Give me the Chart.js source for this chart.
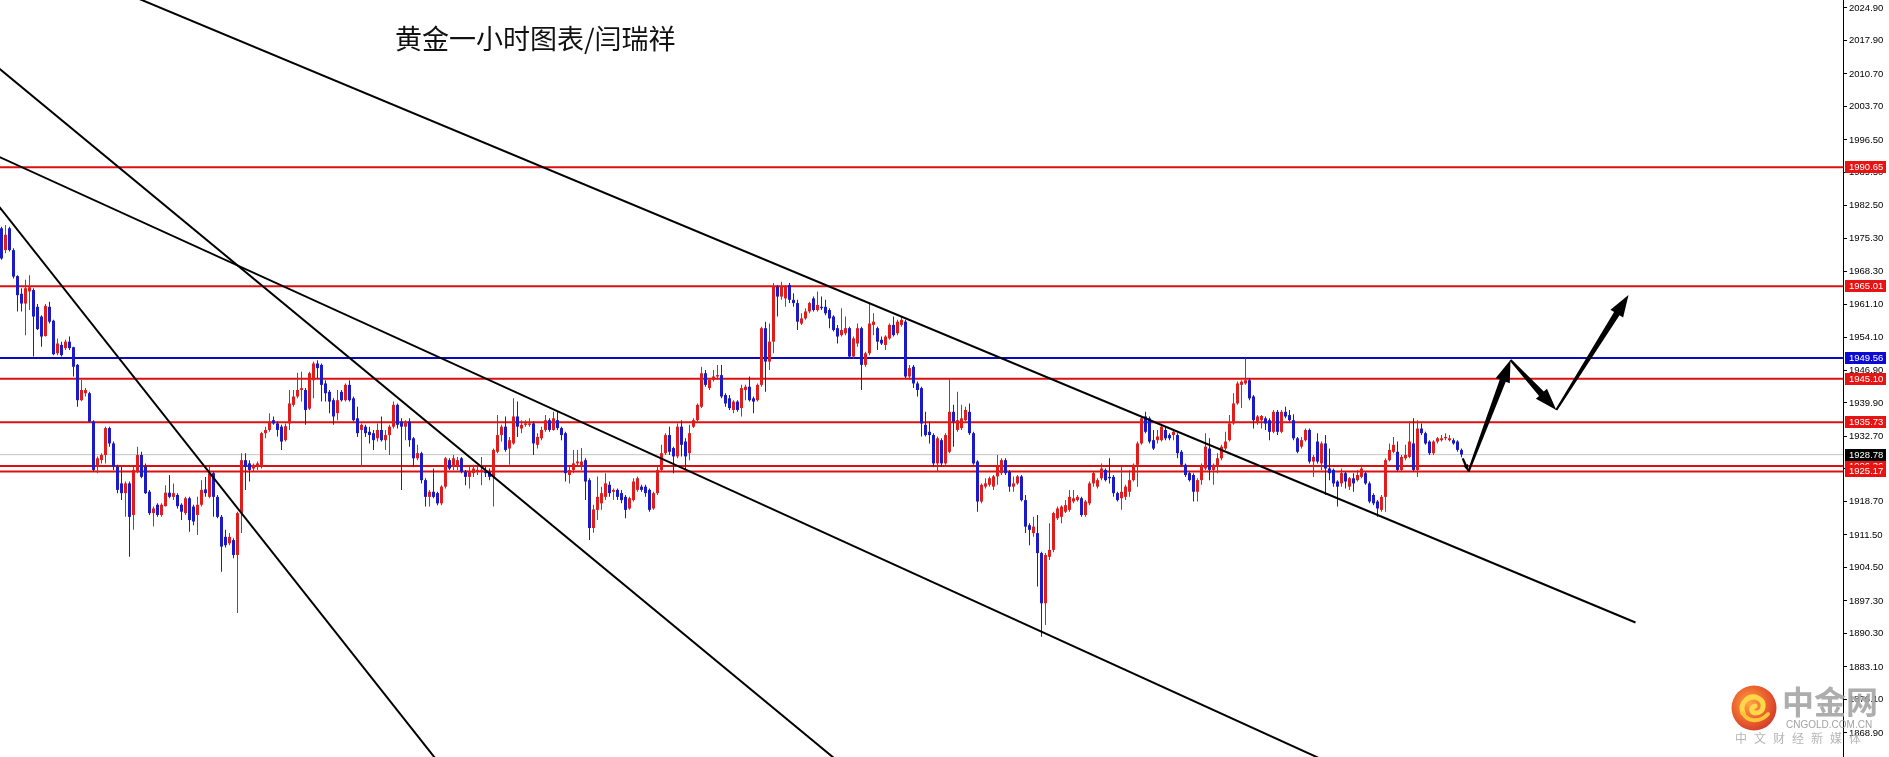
<!DOCTYPE html>
<html>
<head>
<meta charset="utf-8">
<script src="https://cdn.jsdelivr.net/npm/chart.js@4.4.1/dist/chart.umd.min.js"></script>
<style>
    html, body { margin: 0; padding: 0; background: #fff; }
    #wrap { position: relative; width: 1889px; height: 757px; overflow: hidden; }
    #goldChart { position: absolute; left: 0; top: 0; }
    #chart-title { position: absolute; left: 395px; top: 24px; font: 27px/27px "Noto Sans CJK SC", sans-serif; color: #111; white-space: nowrap; }
    .wm { position: absolute; white-space: nowrap; opacity: 0.92; }
    #wm-logo { left: 1731px; top: 685px; }
    #wm-name { left: 1782px; top: 683px; font: bold 32px/34px "Noto Sans CJK SC", sans-serif; color: #a6a6a6; }
    #wm-site { left: 1786px; top: 719px; font: 10px/12px "Liberation Sans", Arial, sans-serif; color: #9a9a9a; }
    #wm-sub { left: 1735px; top: 731px; font: 12px/14px "Noto Sans CJK SC", sans-serif; color: #b0b0b0; letter-spacing: 7px; }
</style>
</head>
<body>
<div id="wrap">
    <canvas id="goldChart" width="1889" height="757"></canvas>
    <div id="chart-title">黄金一小时图表/闫瑞祥</div>
    <svg class="wm" id="wm-logo" width="46" height="46" viewBox="0 0 46 46">
        <defs>
            <radialGradient id="logoGrad" cx="40%" cy="40%" r="65%">
                <stop offset="0%" stop-color="#ff9d30"/>
                <stop offset="55%" stop-color="#ec5a1e"/>
                <stop offset="100%" stop-color="#cf2a1a"/>
            </radialGradient>
        </defs>
        <circle cx="23" cy="23" r="22.5" fill="url(#logoGrad)"/>
        <path d="M12 28 C8 18, 18 9, 27 13 C35 17, 33 28, 25 28 C20 28, 19 22, 24 21" stroke="#ffd43b" stroke-width="5" fill="none" stroke-linecap="round"/>
        <path d="M12 28 C16 37, 29 38, 37 29" stroke="#ffc22a" stroke-width="4" fill="none" stroke-linecap="round"/>
    </svg>
    <div class="wm" id="wm-name">中金网</div>
    <div class="wm" id="wm-site">CNGOLD.COM.CN</div>
    <div class="wm" id="wm-sub">中文财经新媒体</div>
</div>
<script>
// hourly candles, oldest first
const Candle_Open = [
    1977.5, 1972.8, 1977.5, 1972.8, 1967.2, 1963.4, 1961.3, 1963.9, 1964.2, 1960.6,
    1958.5, 1954.3, 1960.6, 1957.6, 1950.6, 1952.4, 1951.7, 1953.1, 1951.9, 1948.1,
    1940.5, 1942.0, 1942.0, 1935.9, 1926.2, 1927.6, 1928.7, 1934.5, 1931.2, 1926.2,
    1922.6, 1920.5, 1922.6, 1915.8, 1925.1, 1928.7, 1926.2, 1920.8, 1916.2, 1918.0,
    1915.8, 1917.7, 1920.6, 1919.7, 1920.1, 1918.0, 1916.2, 1919.4, 1917.6, 1915.8,
    1918.0, 1921.3, 1919.7, 1924.8, 1919.7, 1915.4, 1911.1, 1909.7, 1910.4, 1907.2,
    1916.2, 1927.6, 1926.9, 1925.8, 1926.2, 1926.2, 1933.4, 1934.1, 1936.2, 1935.5,
    1934.8, 1931.9, 1935.5, 1939.5, 1941.3, 1942.7, 1942.7, 1938.7, 1944.8, 1948.4,
    1948.1, 1944.1, 1942.3, 1940.5, 1937.7, 1942.3, 1940.5, 1943.8, 1940.9, 1936.6,
    1934.1, 1934.8, 1933.7, 1933.4, 1932.3, 1934.1, 1931.9, 1933.0, 1934.8, 1939.5,
    1935.9, 1934.8, 1935.9, 1932.3, 1928.0, 1929.1, 1923.3, 1919.7, 1920.8, 1920.5,
    1918.3, 1921.9, 1927.6, 1926.2, 1926.2, 1928.0, 1925.1, 1924.0, 1924.8, 1925.1,
    1925.1, 1925.1, 1925.1, 1924.0, 1929.4, 1933.0, 1934.8, 1930.1, 1931.2, 1937.0,
    1934.4, 1935.2, 1935.2, 1935.5, 1930.9, 1932.3, 1934.1, 1936.2, 1934.1, 1936.2,
    1934.5, 1933.4, 1924.4, 1925.5, 1926.9, 1926.2, 1927.6, 1923.3, 1913.0, 1916.9,
    1918.3, 1919.7, 1922.3, 1920.8, 1921.2, 1920.5, 1919.7, 1917.2, 1919.0, 1921.2,
    1921.9, 1921.9, 1921.2, 1917.2, 1920.5, 1925.5, 1929.1, 1933.0, 1930.2, 1928.4,
    1934.8, 1931.6, 1929.1, 1934.8, 1936.2, 1939.1, 1946.3, 1943.1, 1944.9, 1945.6,
    1945.9, 1941.6, 1940.9, 1938.4, 1940.2, 1938.8, 1942.7, 1943.4, 1940.9, 1940.5,
    1943.8, 1956.0, 1948.8, 1953.1, 1964.9, 1962.8, 1962.4, 1965.3, 1962.1, 1961.4,
    1957.0, 1958.1, 1959.6, 1962.4, 1959.9, 1960.6, 1960.6, 1959.9, 1958.5, 1956.0,
    1954.5, 1954.9, 1956.0, 1949.9, 1952.7, 1956.0, 1948.1, 1950.6, 1956.7, 1956.0,
    1953.5, 1952.4, 1953.8, 1956.7, 1954.9, 1956.7, 1957.4, 1945.6, 1947.7, 1944.1,
    1943.1, 1935.2, 1933.7, 1933.0, 1926.9, 1931.9, 1926.9, 1929.4, 1938.0, 1934.1,
    1934.5, 1936.2, 1938.0, 1933.4, 1927.3, 1918.7, 1921.9, 1922.3, 1921.9, 1924.1,
    1924.8, 1927.6, 1925.1, 1921.9, 1922.6, 1924.1, 1919.0, 1913.6, 1911.9, 1911.9,
    1907.6, 1896.8, 1906.8, 1908.3, 1915.1, 1915.4, 1916.5, 1916.9, 1918.7, 1919.0,
    1919.4, 1915.8, 1918.3, 1922.6, 1921.9, 1923.7, 1925.5, 1924.0, 1924.0, 1920.5,
    1919.4, 1919.7, 1920.8, 1923.3, 1926.6, 1931.2, 1937.0, 1936.6, 1931.9, 1931.9,
    1931.9, 1934.1, 1933.0, 1933.0, 1933.0, 1929.4, 1926.6, 1924.8, 1924.4, 1920.8,
    1923.3, 1925.8, 1930.1, 1925.5, 1926.2, 1928.0, 1930.1, 1931.9, 1935.5, 1939.8,
    1943.8, 1944.1, 1944.8, 1941.3, 1935.9, 1936.2, 1936.6, 1936.2, 1933.7, 1938.0,
    1933.7, 1938.0, 1937.3, 1936.2, 1932.3, 1930.5, 1931.9, 1934.1, 1927.3, 1931.6,
    1926.9, 1931.2, 1925.8, 1925.5, 1923.0, 1922.6, 1924.8, 1921.9, 1923.7, 1923.3,
    1924.0, 1924.8, 1922.6, 1920.1, 1918.7, 1916.9, 1919.7, 1927.6, 1929.4, 1929.4,
    1925.5, 1928.0, 1928.3, 1931.2, 1925.5, 1934.4, 1933.4, 1931.6, 1929.1, 1931.6,
    1931.9, 1932.3, 1931.9, 1931.9, 1931.6, 1929.8
];
const Candle_High = [
    1977.8, 1978.2, 1977.8, 1973.2, 1967.4, 1964.6, 1966.4, 1967.4, 1964.6, 1961.2,
    1958.8, 1961.2, 1961.7, 1957.8, 1953.8, 1953.1, 1953.5, 1954.2, 1952.0, 1948.3,
    1944.9, 1943.1, 1942.3, 1936.2, 1928.4, 1929.1, 1934.8, 1934.8, 1931.6, 1926.6,
    1926.2, 1923.0, 1923.0, 1926.2, 1930.5, 1929.4, 1926.9, 1921.2, 1917.6, 1918.3,
    1918.3, 1922.2, 1924.4, 1922.6, 1920.5, 1918.3, 1919.7, 1919.7, 1918.0, 1919.7,
    1923.3, 1924.0, 1926.2, 1925.1, 1920.1, 1915.8, 1912.6, 1911.9, 1910.8, 1916.5,
    1929.1, 1929.1, 1927.6, 1926.9, 1927.3, 1933.7, 1934.8, 1937.7, 1937.0, 1935.9,
    1935.2, 1935.5, 1942.7, 1942.7, 1946.4, 1946.6, 1943.1, 1946.6, 1948.8, 1949.1,
    1948.4, 1944.8, 1942.7, 1940.9, 1942.7, 1942.7, 1944.1, 1944.8, 1941.3, 1939.1,
    1935.5, 1935.2, 1934.8, 1934.1, 1935.5, 1937.0, 1934.1, 1935.2, 1940.2, 1939.8,
    1936.6, 1936.2, 1936.6, 1932.6, 1930.9, 1929.4, 1923.7, 1921.2, 1925.8, 1920.8,
    1922.2, 1928.3, 1928.0, 1928.7, 1928.3, 1928.3, 1925.5, 1926.2, 1926.6, 1926.2,
    1928.3, 1926.2, 1925.8, 1930.1, 1937.3, 1935.2, 1937.0, 1932.6, 1940.9, 1940.2,
    1936.2, 1936.2, 1936.6, 1935.9, 1933.4, 1934.8, 1937.3, 1936.6, 1938.0, 1938.0,
    1934.8, 1933.7, 1926.2, 1929.8, 1929.8, 1930.2, 1928.0, 1923.7, 1918.0, 1924.1,
    1921.9, 1924.8, 1923.0, 1921.5, 1921.5, 1921.2, 1920.1, 1919.7, 1923.7, 1924.1,
    1922.3, 1922.3, 1921.5, 1920.8, 1926.2, 1930.9, 1933.4, 1934.8, 1930.5, 1935.5,
    1936.2, 1932.3, 1935.2, 1936.6, 1939.8, 1947.7, 1947.0, 1945.2, 1947.0, 1948.1,
    1948.1, 1942.0, 1941.6, 1940.5, 1940.5, 1943.8, 1943.8, 1945.6, 1941.3, 1944.1,
    1956.3, 1957.4, 1957.0, 1965.7, 1965.3, 1966.0, 1965.3, 1965.7, 1963.5, 1962.1,
    1959.2, 1960.3, 1961.7, 1962.8, 1963.9, 1962.8, 1962.1, 1960.3, 1958.8, 1956.7,
    1960.3, 1958.5, 1956.3, 1954.2, 1957.0, 1956.3, 1950.9, 1961.4, 1959.2, 1956.3,
    1954.2, 1954.5, 1957.0, 1958.5, 1957.8, 1958.5, 1957.8, 1948.1, 1948.1, 1944.5,
    1943.4, 1938.0, 1935.9, 1933.4, 1932.7, 1932.3, 1933.4, 1945.2, 1939.5, 1942.3,
    1939.5, 1939.1, 1939.8, 1933.7, 1927.6, 1922.6, 1923.7, 1924.1, 1924.4, 1928.7,
    1928.0, 1928.0, 1925.5, 1924.1, 1924.4, 1924.4, 1920.1, 1914.0, 1915.4, 1915.8,
    1907.9, 1907.6, 1914.0, 1916.5, 1917.6, 1917.9, 1919.0, 1921.2, 1921.2, 1920.1,
    1919.7, 1919.0, 1923.0, 1925.1, 1923.7, 1926.9, 1925.8, 1928.0, 1924.4, 1920.8,
    1926.2, 1922.3, 1925.5, 1926.9, 1931.6, 1937.0, 1938.0, 1937.0, 1934.1, 1934.1,
    1935.2, 1934.8, 1933.4, 1934.1, 1933.4, 1929.8, 1926.9, 1925.1, 1924.8, 1923.7,
    1926.9, 1933.4, 1932.3, 1926.9, 1929.1, 1930.9, 1933.7, 1937.3, 1942.0, 1944.5,
    1944.8, 1949.5, 1945.2, 1941.6, 1937.3, 1937.3, 1937.0, 1936.6, 1938.4, 1938.4,
    1938.4, 1939.1, 1938.4, 1937.5, 1932.6, 1932.6, 1934.4, 1934.4, 1928.7, 1933.4,
    1931.6, 1933.0, 1930.1, 1925.8, 1923.3, 1925.8, 1925.1, 1924.0, 1924.8, 1925.5,
    1926.6, 1925.1, 1923.0, 1920.5, 1919.0, 1920.1, 1928.0, 1931.2, 1932.6, 1931.6,
    1928.7, 1930.9, 1935.9, 1936.6, 1936.2, 1935.5, 1933.7, 1931.9, 1931.9, 1932.6,
    1933.0, 1933.4, 1933.0, 1932.3, 1931.9, 1930.1
];
const Candle_Low = [
    1970.7, 1972.1, 1972.5, 1966.7, 1959.6, 1959.6, 1954.5, 1959.9, 1949.9, 1955.6,
    1952.0, 1954.2, 1957.0, 1950.2, 1950.2, 1949.9, 1951.3, 1951.3, 1945.6, 1939.1,
    1940.3, 1941.3, 1935.7, 1925.1, 1924.8, 1926.9, 1926.9, 1930.5, 1925.5, 1920.5,
    1919.0, 1915.4, 1906.8, 1912.6, 1924.8, 1923.7, 1920.3, 1915.8, 1913.3, 1915.4,
    1915.4, 1917.6, 1919.4, 1919.0, 1917.2, 1914.7, 1915.8, 1912.2, 1913.6, 1911.5,
    1917.6, 1919.7, 1919.4, 1915.4, 1915.1, 1903.6, 1908.8, 1909.3, 1906.5, 1894.7,
    1911.9, 1921.2, 1923.0, 1925.1, 1925.5, 1925.8, 1932.3, 1933.7, 1935.2, 1932.7,
    1929.8, 1931.6, 1934.1, 1939.1, 1940.9, 1940.2, 1935.2, 1938.4, 1940.9, 1945.2,
    1940.2, 1940.2, 1937.7, 1935.2, 1936.2, 1940.2, 1940.2, 1940.2, 1935.9, 1932.6,
    1926.2, 1932.6, 1931.2, 1929.8, 1931.6, 1931.6, 1929.8, 1928.7, 1934.4, 1934.4,
    1921.2, 1931.9, 1930.5, 1926.2, 1927.6, 1922.6, 1917.6, 1917.6, 1919.4, 1917.9,
    1917.9, 1921.5, 1925.5, 1925.5, 1925.5, 1924.8, 1922.2, 1921.5, 1924.0, 1924.4,
    1922.2, 1924.0, 1923.3, 1917.6, 1929.1, 1931.6, 1929.4, 1926.6, 1930.9, 1932.6,
    1933.4, 1934.8, 1934.8, 1928.7, 1930.1, 1931.9, 1933.7, 1933.7, 1933.9, 1934.1,
    1931.9, 1923.0, 1922.6, 1924.8, 1926.2, 1925.5, 1919.0, 1910.4, 1912.0, 1914.7,
    1916.9, 1919.0, 1919.7, 1919.0, 1919.0, 1918.3, 1915.1, 1916.9, 1918.7, 1920.8,
    1920.8, 1919.7, 1916.5, 1916.9, 1920.1, 1925.1, 1928.7, 1928.7, 1924.8, 1928.0,
    1928.4, 1925.5, 1927.6, 1934.5, 1935.9, 1938.8, 1943.4, 1942.7, 1944.5, 1944.9,
    1940.9, 1939.1, 1938.4, 1937.7, 1938.0, 1937.0, 1940.5, 1940.2, 1937.7, 1940.2,
    1943.4, 1942.3, 1947.0, 1950.6, 1958.5, 1962.1, 1960.6, 1961.4, 1960.6, 1955.6,
    1956.7, 1957.8, 1959.2, 1959.6, 1959.6, 1959.9, 1958.8, 1956.0, 1955.3, 1952.7,
    1954.2, 1954.5, 1949.5, 1949.5, 1952.0, 1942.7, 1947.7, 1950.2, 1954.5, 1951.3,
    1952.4, 1951.3, 1953.5, 1954.2, 1954.5, 1956.3, 1945.2, 1944.9, 1943.1, 1941.3,
    1932.7, 1932.7, 1931.2, 1926.2, 1925.1, 1926.2, 1926.6, 1929.1, 1930.5, 1933.7,
    1934.1, 1935.9, 1933.0, 1926.6, 1916.5, 1918.3, 1921.5, 1921.9, 1921.2, 1922.3,
    1924.4, 1924.4, 1920.8, 1920.8, 1922.3, 1918.7, 1911.9, 1909.3, 1911.1, 1900.4,
    1889.6, 1892.1, 1906.1, 1907.8, 1914.7, 1914.0, 1916.2, 1916.5, 1918.3, 1918.7,
    1915.4, 1915.4, 1917.9, 1921.9, 1921.5, 1923.3, 1923.0, 1922.6, 1919.7, 1918.7,
    1916.9, 1919.0, 1919.7, 1923.0, 1921.9, 1930.9, 1933.4, 1931.2, 1929.8, 1931.2,
    1931.6, 1931.9, 1931.9, 1931.9, 1928.0, 1926.2, 1924.0, 1923.0, 1918.7, 1918.7,
    1922.3, 1925.5, 1923.3, 1922.3, 1924.8, 1927.6, 1929.8, 1931.6, 1935.2, 1939.5,
    1938.8, 1943.8, 1940.5, 1934.4, 1935.2, 1934.4, 1934.1, 1931.9, 1933.4, 1933.0,
    1933.4, 1936.6, 1935.9, 1931.9, 1929.1, 1930.1, 1931.6, 1926.9, 1924.0, 1926.9,
    1925.5, 1920.1, 1923.3, 1921.9, 1917.6, 1921.9, 1921.5, 1921.2, 1920.8, 1923.0,
    1923.7, 1922.3, 1918.3, 1917.9, 1915.4, 1916.5, 1916.5, 1927.3, 1929.1, 1925.1,
    1925.1, 1927.6, 1928.0, 1925.1, 1924.0, 1933.0, 1930.9, 1928.7, 1928.7, 1931.2,
    1931.6, 1931.9, 1931.6, 1930.9, 1929.4, 1928.2
];
const Candle_Close = [
    1971.0, 1976.1, 1972.8, 1967.1, 1963.1, 1961.3, 1964.6, 1964.8, 1958.5, 1955.8,
    1954.2, 1960.8, 1957.4, 1950.4, 1952.7, 1950.2, 1953.1, 1951.7, 1947.7, 1940.5,
    1942.7, 1942.7, 1935.9, 1925.5, 1928.0, 1928.7, 1934.5, 1931.2, 1926.2, 1921.2,
    1920.5, 1922.6, 1915.4, 1925.5, 1928.7, 1924.0, 1920.5, 1916.2, 1917.2, 1915.8,
    1918.0, 1920.6, 1919.7, 1920.5, 1917.7, 1916.5, 1919.4, 1914.7, 1914.4, 1918.0,
    1921.2, 1920.5, 1924.8, 1919.7, 1915.4, 1909.0, 1909.3, 1911.1, 1907.2, 1916.2,
    1927.6, 1926.2, 1925.5, 1926.6, 1926.9, 1933.4, 1934.1, 1935.9, 1935.5, 1934.1,
    1931.6, 1934.9, 1939.8, 1941.3, 1942.7, 1943.1, 1938.4, 1946.3, 1948.4, 1947.4,
    1943.8, 1942.0, 1940.2, 1937.0, 1940.5, 1940.5, 1943.8, 1940.5, 1936.2, 1933.4,
    1935.2, 1933.4, 1933.0, 1931.9, 1934.1, 1931.9, 1933.0, 1934.8, 1939.5, 1935.2,
    1934.8, 1935.9, 1931.9, 1928.0, 1929.1, 1923.3, 1919.7, 1920.8, 1919.7, 1918.3,
    1921.9, 1928.0, 1925.8, 1928.0, 1927.6, 1925.1, 1924.0, 1925.1, 1925.8, 1925.5,
    1925.5, 1924.8, 1924.0, 1929.8, 1933.0, 1934.8, 1929.8, 1931.9, 1937.0, 1934.8,
    1935.2, 1935.5, 1935.5, 1931.2, 1932.6, 1934.1, 1936.2, 1934.1, 1936.6, 1934.5,
    1933.0, 1924.8, 1925.5, 1926.9, 1927.3, 1927.3, 1923.0, 1913.0, 1917.0, 1919.7,
    1920.5, 1922.6, 1920.5, 1921.2, 1919.7, 1919.0, 1916.9, 1919.4, 1923.0, 1923.7,
    1921.2, 1920.5, 1916.9, 1920.5, 1925.5, 1929.1, 1933.0, 1929.4, 1928.4, 1934.8,
    1930.9, 1928.4, 1933.4, 1936.2, 1939.5, 1946.3, 1943.8, 1944.9, 1945.6, 1945.9,
    1941.3, 1939.8, 1938.8, 1940.2, 1938.4, 1943.1, 1943.4, 1940.5, 1940.2, 1943.8,
    1956.0, 1948.8, 1953.1, 1964.9, 1962.8, 1964.9, 1964.9, 1962.1, 1961.4, 1957.4,
    1958.1, 1959.6, 1961.4, 1959.9, 1961.0, 1960.3, 1959.2, 1958.1, 1955.6, 1954.2,
    1955.6, 1956.0, 1949.9, 1953.8, 1956.0, 1948.1, 1950.6, 1957.0, 1957.4, 1953.1,
    1952.7, 1954.2, 1956.7, 1954.5, 1957.4, 1957.8, 1945.6, 1947.4, 1944.1, 1942.7,
    1935.5, 1933.0, 1933.0, 1926.9, 1932.3, 1926.9, 1933.0, 1938.0, 1935.9, 1936.2,
    1936.6, 1938.4, 1933.4, 1926.9, 1918.7, 1922.3, 1922.6, 1923.7, 1924.1, 1926.2,
    1927.6, 1924.8, 1921.9, 1922.6, 1924.1, 1919.0, 1913.3, 1912.6, 1913.3, 1907.6,
    1896.8, 1907.2, 1908.3, 1916.2, 1917.2, 1917.6, 1917.9, 1919.7, 1919.4, 1919.7,
    1915.8, 1918.7, 1922.6, 1924.8, 1923.3, 1925.8, 1923.3, 1923.7, 1920.5, 1919.0,
    1920.8, 1921.9, 1923.3, 1926.6, 1931.2, 1936.6, 1933.7, 1931.6, 1930.1, 1932.7,
    1934.8, 1932.3, 1932.3, 1933.7, 1929.1, 1926.6, 1924.4, 1923.3, 1920.8, 1923.3,
    1926.2, 1930.5, 1925.5, 1926.6, 1928.0, 1930.5, 1931.6, 1935.5, 1939.8, 1944.1,
    1944.5, 1944.8, 1940.9, 1936.2, 1937.0, 1937.1, 1935.5, 1933.7, 1938.0, 1933.7,
    1938.0, 1937.0, 1936.2, 1932.3, 1929.4, 1931.9, 1934.1, 1927.3, 1928.3, 1927.3,
    1931.2, 1925.8, 1924.8, 1922.6, 1921.9, 1924.8, 1923.0, 1923.7, 1922.6, 1924.4,
    1925.8, 1922.6, 1918.7, 1918.3, 1917.2, 1919.7, 1927.6, 1929.8, 1930.9, 1925.5,
    1928.3, 1928.7, 1931.6, 1925.5, 1934.4, 1933.4, 1931.2, 1929.1, 1931.6, 1932.3,
    1932.3, 1932.6, 1932.3, 1931.2, 1929.8, 1928.8
];

// price axis
const Axis_Min = 1863.72;
const Axis_Max = 2026.62;
const Axis_Ticks = [2024.90, 2017.90, 2010.70, 2003.70, 1996.50, 1989.50, 1982.50, 1975.30, 1968.30,
    1961.10, 1954.10, 1946.90, 1939.90, 1932.70, 1925.70, 1918.70, 1911.50, 1904.50, 1897.30,
    1890.30, 1883.10, 1876.10, 1868.90];

// bar slots across the plot (empty space on the right)
const Slot_Min = -0.375;
const Slot_Max = 460.375;

// horizontal levels
const Red_Levels = [1990.65, 1965.01, 1945.10, 1935.73, 1926.36, 1925.17];
const Blue_Levels = [1949.56];
const Last_Price = 1928.78;

// trend lines: start / end in (bar index, price)
const Trend_Start_X = [24.5, -0.5, -0.5, -0.5];
const Trend_Start_Y = [2030.41, 2011.84, 1992.83, 1982.07];
const Trend_End_X = [408.5, 209, 330, 109];
const Trend_End_Y = [1892.66, 1862.87, 1863.24, 1862.83];

// forecast zigzag arrows, in (bar index, price)
const Arrow_X = [365.3, 366.75, 377.25, 388.7, 406.75];
const Arrow_Y = [1927.99, 1925.11, 1949.15, 1938.39, 1963.14];

const Bull_Color = '#e21b1b';
const Bear_Color = '#1a1ac8';
const Level_Red = '#dc1010';
const Level_Blue = '#0a0ac0';
const Axis_Font = '"Liberation Sans", Arial, sans-serif';

const Candle_Colors = Candle_Close.map((C, I) => C >= Candle_Open[I] ? Bull_Color : Bear_Color);
const Wick_Data = Candle_Open.map((O, I) => ({
    x: I,
    y: [Math.min(Candle_Low[I], O, Candle_Close[I]), Math.max(Candle_High[I], O, Candle_Close[I])]
}));
const Body_Data = Candle_Open.map((O, I) => ({
    x: I,
    y: [Math.min(O, Candle_Close[I]), Math.max(O, Candle_Close[I])]
}));

function Level_Dataset(Value, Color, Width) {
    return {
        type: 'line',
        data: [{ x: Slot_Min, y: Value }, { x: Slot_Max, y: Value }],
        borderColor: Color, borderWidth: Width, pointRadius: 0, tension: 0, order: 10
    };
}

const Level_Sets = [
    Level_Dataset(Last_Price, '#c4c4c4', 1),
    ...Red_Levels.map(V => Level_Dataset(V, Level_Red, 2)),
    ...Blue_Levels.map(V => Level_Dataset(V, Level_Blue, 2))
];

const Trend_Sets = Trend_Start_X.map((X0, I) => ({
    type: 'line',
    data: [{ x: X0, y: Trend_Start_Y[I] }, { x: Trend_End_X[I], y: Trend_End_Y[I] }],
    borderColor: '#000', borderWidth: 2, pointRadius: 0, tension: 0, order: 1
}));

const Price_Tags = [
    { value: Red_Levels[0], color: '#e81414' },
    { value: Red_Levels[1], color: '#e81414' },
    { value: Blue_Levels[0], color: '#0a0ad2' },
    { value: Red_Levels[2], color: '#e81414' },
    { value: Red_Levels[3], color: '#e81414' },
    { value: Red_Levels[4], color: '#e81414' },
    { value: Last_Price, color: '#000000' },
    { value: Red_Levels[5], color: '#e81414' }
];

const Arrow_Plugin = {
    id: 'zigzagArrows',
    afterDatasetsDraw(chart) {
        const { ctx, scales: { x, y } } = chart;
        ctx.save();
        ctx.fillStyle = '#000';
        for (let i = 1; i < Arrow_X.length; i++) {
            const X0 = x.getPixelForValue(Arrow_X[i - 1]), Y0 = y.getPixelForValue(Arrow_Y[i - 1]);
            const X1 = x.getPixelForValue(Arrow_X[i]), Y1 = y.getPixelForValue(Arrow_Y[i]);
            const Len = Math.hypot(X1 - X0, Y1 - Y0);
            const Ux = (X1 - X0) / Len, Uy = (Y1 - Y0) / Len;
            const Nx = -Uy, Ny = Ux;
            const Head = Math.min(22, Len * 0.5);
            const Head_Half = Head * 0.34;
            const W0 = 1.1, W1 = Math.min(3.2, Head * 0.16);
            const Bx = X1 - Ux * Head, By = Y1 - Uy * Head;
            ctx.beginPath();
            ctx.moveTo(X0 + Nx * W0, Y0 + Ny * W0);
            ctx.lineTo(Bx + Nx * W1, By + Ny * W1);
            ctx.lineTo(Bx + Nx * Head_Half, By + Ny * Head_Half);
            ctx.lineTo(X1, Y1);
            ctx.lineTo(Bx - Nx * Head_Half, By - Ny * Head_Half);
            ctx.lineTo(Bx - Nx * W1, By - Ny * W1);
            ctx.lineTo(X0 - Nx * W0, Y0 - Ny * W0);
            ctx.closePath();
            ctx.fill();
        }
        ctx.restore();
    }
};

const Tag_Plugin = {
    id: 'priceTags',
    afterDraw(chart) {
        const { ctx, chartArea, scales: { y } } = chart;
        ctx.save();
        ctx.font = '9.5px ' + Axis_Font;
        ctx.textBaseline = 'middle';
        Price_Tags.forEach(Tag => {
            const Py = Math.round(y.getPixelForValue(Tag.value));
            ctx.fillStyle = Tag.color;
            ctx.fillRect(chartArea.right + 2, Py - 6, 41, 12);
            ctx.fillStyle = '#fff';
            ctx.fillText(Tag.value.toFixed(2), chartArea.right + 6, Py + 0.5);
        });
        ctx.restore();
    }
};

Chart.defaults.font.family = Axis_Font;

const Ctx = document.getElementById('goldChart').getContext('2d');
const Gold_Chart = new Chart(Ctx, {
    type: 'bar',
    data: {
        datasets: [
            ...Level_Sets,
            { type: 'bar', data: Wick_Data, backgroundColor: Candle_Colors, barThickness: 1, grouped: false, borderWidth: 0, inflateAmount: 0, order: 5 },
            { type: 'bar', data: Body_Data, backgroundColor: Candle_Colors, barThickness: 3, grouped: false, borderWidth: 0, inflateAmount: 0, minBarLength: 1, order: 4 },
            ...Trend_Sets
        ]
    },
    options: {
        responsive: false,
        animation: false,
        events: [],
        layout: { padding: 0 },
        plugins: { legend: { display: false }, tooltip: { enabled: false }, title: { display: false } },
        scales: {
            x: { type: 'linear', min: Slot_Min, max: Slot_Max, offset: false, display: false },
            y: {
                type: 'linear', position: 'right', min: Axis_Min, max: Axis_Max, bounds: 'data', beginAtZero: false,
                border: { display: true, color: '#000', width: 1 },
                grid: { display: true, drawOnChartArea: false, drawTicks: true, tickLength: 4, color: '#000' },
                ticks: { color: '#000', font: { size: 9.5 }, padding: 2, autoSkip: false, callback: V => Number(V).toFixed(2) },
                afterBuildTicks: Scale => { Scale.ticks = Axis_Ticks.map(V => ({ value: V })); },
                afterFit: Scale => { Scale.width = 46; Scale.paddingTop = 0; Scale.paddingBottom = 0; }
            }
        }
    },
    plugins: [Arrow_Plugin, Tag_Plugin]
});
</script>
</body>
</html>
